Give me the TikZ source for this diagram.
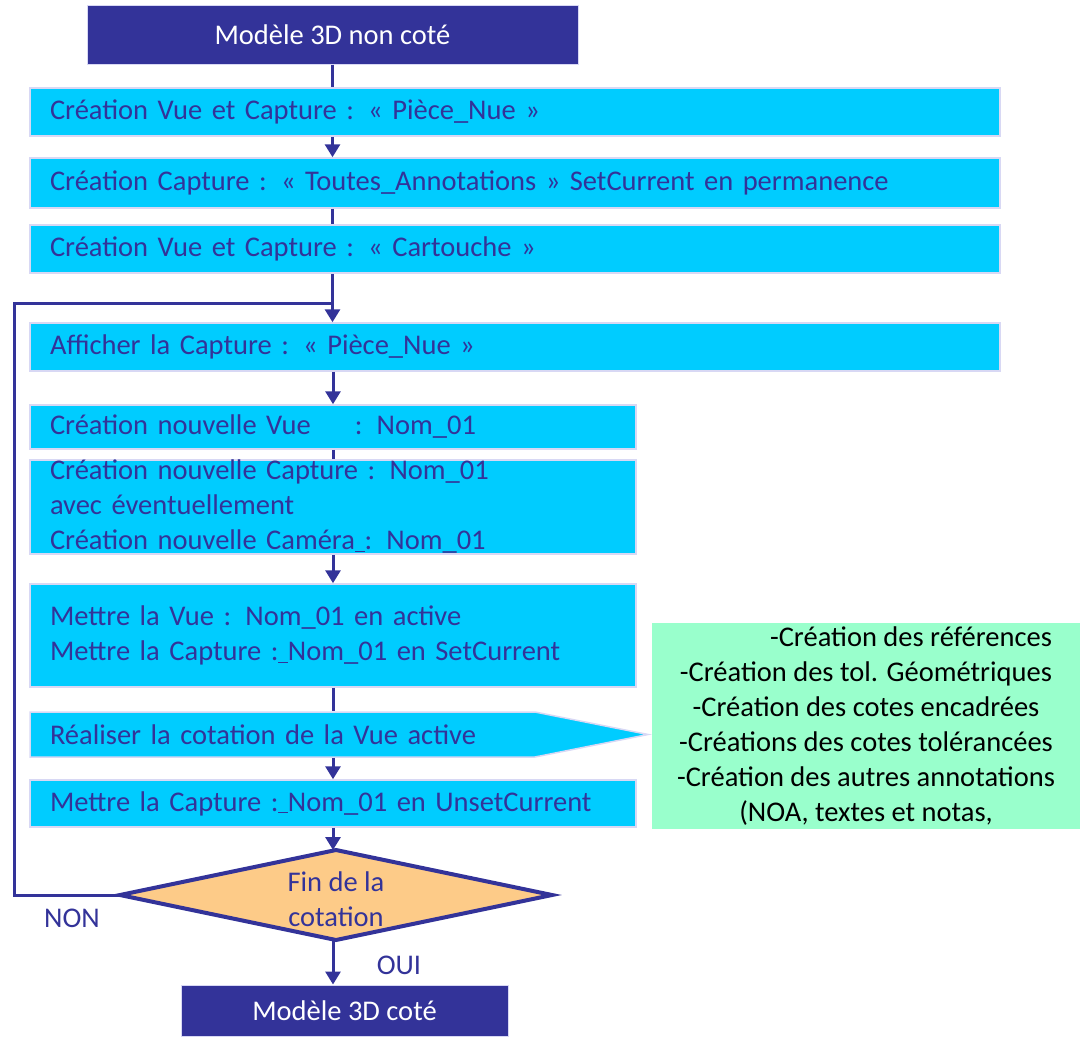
\documentclass[tikz,border=0pt]{standalone}
\usepackage{fontspec}
\setmainfont{Carlito}
\usetikzlibrary{arrows.meta,calc}
\definecolor{navy}{HTML}{333399}
\definecolor{cyanf}{HTML}{00CCFF}
\definecolor{lav}{HTML}{D8D8F4}
\definecolor{orangef}{HTML}{FDCB88}
\definecolor{greenf}{HTML}{99FFCC}
\tikzset{
  txt/.style={font=\fontsize{28.5}{35}\selectfont},
  darkbox/.style={txt, fill=navy, text=white, draw=lav, line width=1pt, inner sep=0pt, align=center},
  cbox/.style={txt, fill=cyanf, draw=lav, line width=1.5pt, text=navy, align=left, inner xsep=20pt, inner ysep=0pt},
  conn/.style={draw=navy, line width=3pt},
  arr/.style={conn, -{Triangle[width=15pt,length=13pt]}},
  lbl/.style={txt, text=navy, inner sep=0pt},
}
\begin{document}
\begin{tikzpicture}[x=1pt,y=-1pt]
\useasboundingbox (0,0) rectangle (1080,1037);
\node[darkbox, minimum width=491pt, minimum height=59pt] (top) at (332.5,34.5) {Modèle 3D non coté};
\node[cbox, minimum width=970pt, minimum height=48pt, text width=930pt] (b1) at (515,112) {Création Vue et Capture : « Pièce\_Nue »};
\node[cbox, minimum width=970pt, minimum height=50pt, text width=930pt] (b2) at (515,183) {Création Capture : « Toutes\_Annotations » SetCurrent en permanence};
\node[cbox, minimum width=970pt, minimum height=48pt, text width=930pt] (b3) at (515,249) {Création Vue et Capture : « Cartouche »};
\node[cbox, minimum width=970pt, minimum height=48pt, text width=930pt] (b4) at (515,347) {Afficher la Capture : « Pièce\_Nue »};
\node[cbox, minimum width=606pt, minimum height=44pt, text width=566pt] (b5) at (333,427) {Création nouvelle Vue\hspace{44pt}: Nom\_01};
\node[cbox, minimum width=606pt, minimum height=94pt, text width=566pt] (b6) at (333,507) {Création nouvelle Capture : Nom\_01\\avec éventuellement\\Création nouvelle Caméra\underline{\ }: Nom\_01};
\node[cbox, minimum width=606pt, minimum height=103pt, text width=566pt] (b7) at (333,635.5) {Mettre la Vue : Nom\_01 en active\\Mettre la Capture :\underline{\ }Nom\_01 en SetCurrent};
\fill[cyanf, draw=lav, line width=1.5pt] (30,712) -- (535,712) -- (648,734.5) -- (535,757) -- (30,757) -- cycle;
\node[cbox, fill=none, draw=none, minimum width=606pt, minimum height=45pt, text width=566pt] (pent) at (333,734.5) {Réaliser la cotation de la Vue active};
\node[cbox, minimum width=606pt, minimum height=47pt, text width=566pt] (b8) at (333,803.5) {Mettre la Capture :\underline{\ }Nom\_01 en UnsetCurrent};
\node[txt, fill=greenf, text=black, align=center, minimum width=428pt, minimum height=206pt, inner sep=0pt] (green) at (866,726) {\hspace*{90pt}-Création des références\\-Création des tol. Géométriques\\-Création des cotes encadrées\\-Créations des cotes tolérancées\\-Création des autres annotations\\(NOA, textes et notas,};
\coordinate (dtop) at (336,850);
\coordinate (dbot) at (336,940);
\coordinate (dleft) at (120,895);
\coordinate (dright) at (552,895);
\filldraw[fill=orangef, draw=navy, line width=4pt, line join=miter] (dtop) -- (dright) -- (dbot) -- (dleft) -- cycle;
\node[lbl, align=center] (dec) at (336,899) {Fin de la\\cotation};
\node[darkbox, minimum width=327pt, minimum height=51pt] (final) at (344.5,1010.5) {Modèle 3D coté};
\node[lbl] (non) at (72,918) {NON};
\node[lbl] (oui) at (399,965) {OUI};
\coordinate (c1) at (14,895);
\coordinate (c2) at (14,303);
\coordinate (c3) at (333,303);
% connectors
\draw[conn] (top.south) -- (top.south |- b1.north);
\draw[arr] (b1.south -| top.south) -- (top.south |- b2.north);
\draw[conn] (b2.south -| top.south) -- (top.south |- b3.north);
\draw[arr] (b3.south -| top.south) -- (top.south |- b4.north);
\draw[arr] (b4.south -| b5.north) -- (b5.north);
\draw[conn] (b5.south) -- (b6.north);
\draw[arr] (b6.south) -- (b7.north);
\draw[conn] (b7.south) -- (pent.north);
\draw[arr] (pent.south) -- (b8.north);
\draw[arr] (b8.south) -- (b8.south |- dtop);
\draw[arr] (dbot -| b8.south) -- (b8.south |- final.north);
\draw[conn] (dleft) -- (c1) -- (c2) -- (c3);
\end{tikzpicture}
\end{document}
